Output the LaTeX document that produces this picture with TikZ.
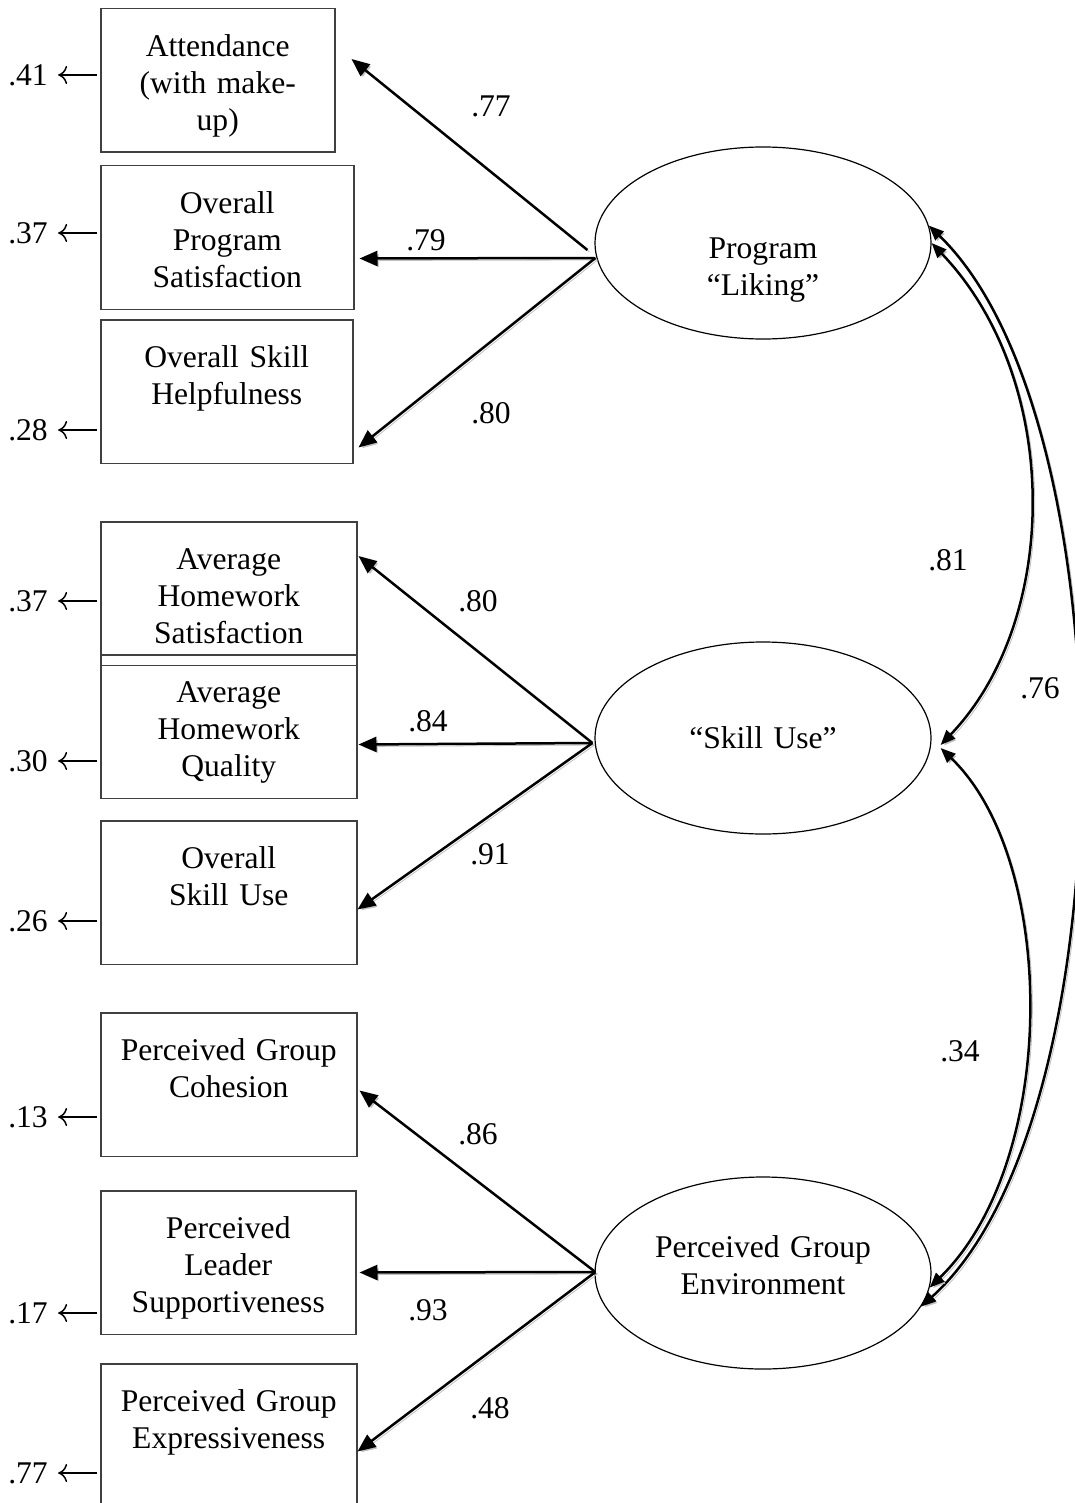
\documentclass[tikz,border=0pt]{standalone}
\usepackage{fontspec}
\setmainfont{Liberation Serif}
\usetikzlibrary{calc, arrows.meta, shapes.geometric}

\begin{document}
\begin{tikzpicture}[x=.5pt, y=-.5pt, every node/.style={font=\fontsize{15.8}{18.5}\selectfont}]
\tikzstyle{obs} = [rectangle, draw=black!75, line width=.75pt, anchor=north west, inner sep=0, align=center, text height=24pt, text depth=47.75pt]
\tikzstyle{lat} = [ellipse, draw=black, line width=.6pt, minimum width=168pt, minimum height=96pt, inner sep=0, text width=110pt, align=center]
\tikzstyle{num} = [inner sep=0]
\tikzstyle{load} = [-{Triangle[length=9pt, width=7.5pt]}, line width=1.25pt, preaction={draw=black!25, transform canvas={shift={(1pt,-1pt)}}}]
\tikzstyle{cov} = [{Triangle[length=7.5pt, width=6pt]}-{Triangle[length=7.5pt, width=6pt]}, line width=1.25pt, preaction={draw=black!25, transform canvas={shift={(1pt,-1pt)}}}]
\tikzstyle{err} = [{To[length=4.5pt, width=9pt]}-, line width=.75pt, shorten <=5pt, shorten >=1.5pt]

\useasboundingbox (0,0) rectangle (1075,1503);

% observed indicators
\node (att) [obs, text width=117pt] at (100,8) {Attendance\\(with make-\\up)};
\node (sat) [obs, text width=126.5pt] at (100,165) {Overall\\Program\\Satisfaction};
\node (help) [obs, text width=126pt] at (100,319) {Overall Skill\\Helpfulness};
\node (hws) [obs, text width=128pt] at (100,521) {Average\\Homework\\Satisfaction};
\node (hwq) [obs, text width=128pt] at (100,654) {Average\\Homework\\Quality};
\node (use) [obs, text width=128pt] at (100,820) {Overall\\Skill Use};
\node (coh) [obs, text width=128pt] at (100,1012) {Perceived Group\\Cohesion};
\node (lead) [obs, text width=127.5pt] at (100,1190) {Perceived\\Leader\\Supportiveness};
\node (expr) [obs, text width=128pt] at (100,1363) {Perceived Group\\Expressiveness};

% latent factors
\node (liking) [lat, text height=25pt, text depth=10pt] at (763,243) {Program\\``Liking''};
\node (skill) [lat, text height=12pt, text depth=2pt] at (763,738) {``Skill Use''};
\node (env) [lat, text height=10pt, text depth=26pt] at (763,1273) {Perceived Group\\Environment};

% error terms
\node (e1) [num] at (28,75) {.41};
\node (e2) [num] at (28,233) {.37};
\node (e3) [num] at (28,430) {.28};
\node (e4) [num] at (28,601) {.37};
\node (e5) [num] at (28,761) {.30};
\node (e6) [num] at (28,921) {.26};
\node (e7) [num] at (28,1117) {.13};
\node (e8) [num] at (28,1313) {.17};
\node (e9) [num] at (28,1473) {.77};

\draw[err] (e1) -- (e1 -| att.west);
\draw[err] (e2) -- (e2 -| sat.west);
\draw[err] (e3) -- (e3 -| help.west);
\draw[err] (e4) -- (e4 -| hws.west);
\draw[err] (e5) -- (e5 -| hwq.west);
\draw[err] (e6) -- (e6 -| use.west);
\draw[err] (e7) -- (e7 -| coh.west);
\draw[err] (e8) -- (e8 -| lead.west);
\draw[err] (e9) -- (e9 -| expr.west);

% loadings
\draw[load] ($(liking.west)+(-7,7)$) -- ($(att.east)+(16,-21.5)$);
\draw[load] ($(liking.west)+(1,15)$) -- ($(sat.east)+(5,21)$);
\draw[load] ($(liking.west)+(1,15)$) -- ($(help.east)+(5,56)$);

\draw[load] ($(skill.west)+(-2,5)$) -- ($(hws.east)+(1,-37.5)$);
\draw[load] ($(skill.west)+(-2,5)$) -- ($(hwq.east)+(1,18)$);
\draw[load] ($(skill.west)+(-2,5)$) -- ($(use.east)+(0,17)$);

\draw[load] ($(env.west)+(1,-1)$) -- ($(coh.east)+(2,6)$);
\draw[load] ($(env.west)+(1,-1)$) -- ($(lead.east)+(3,10)$);
\draw[load] ($(env.west)+(1,-1)$) -- ($(expr.east)+(0,16)$);

\node (w1) [num] at (491,106) {.77};
\node (w2) [num] at (426,240) {.79};
\node (w3) [num] at (491,413) {.80};
\node (w4) [num] at (478,601) {.80};
\node (w5) [num] at (428,721) {.84};
\node (w6) [num] at (490,854) {.91};
\node (w7) [num] at (478,1134) {.86};
\node (w8) [num] at (428,1310) {.93};
\node (w9) [num] at (490,1408) {.48};

% factor correlations
\draw[cov] (liking.east) .. controls +(131,137) and +(120,-125) .. ($(skill.east)+(9,7)$);
\draw[cov] (liking.6) .. controls +(201,194) and +(208,-187) .. (env.-12);
\draw[cov] ($(skill.east)+(9,10)$) .. controls +(117,112) and +(130,-127) .. (env.-5);

\node (r12) [num] at (948,560) {.81};
\node (r13) [num] at (1040,688) {.76};
\node (r23) [num] at (960,1051) {.34};

\end{tikzpicture}
\end{document}
